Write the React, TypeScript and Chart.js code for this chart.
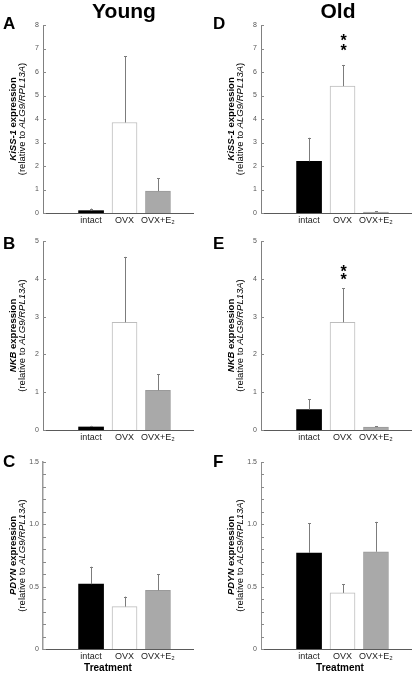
import React, { useEffect, useRef } from "react";
import { Chart, registerables } from "chart.js";

Chart.register(...registerables);

const FONT = '"Liberation Sans", Arial, Helvetica, sans-serif';

// ---- data ----
const categories = ["intact", "OVX", "OVX+E\u2082"];

// Young
const youngKissMean = [0.1, 3.85, 0.93];
const youngKissSem = [0.09, 2.82, 0.55];
const youngNkbMean = [0.08, 2.85, 1.05];
const youngNkbSem = [0.03, 1.73, 0.42];
const youngPdynMean = [0.52, 0.34, 0.47];
const youngPdynSem = [0.14, 0.08, 0.13];

// Old
const oldKissMean = [2.2, 5.4, 0.04];
const oldKissSem = [1.0, 0.9, 0.03];
const oldNkbMean = [0.54, 2.85, 0.08];
const oldNkbSem = [0.27, 0.9, 0.02];
const oldPdynMean = [0.77, 0.45, 0.78];
const oldPdynSem = [0.24, 0.07, 0.24];

// significance marks
const noStars = ["", "", ""];
const oldKissStars = ["", "**", ""];
const oldNkbStars = ["", "**", ""];

// tick values
const kissTicks = [0, 1, 2, 3, 4, 5, 6, 7, 8];
const nkbTicks = [0, 1, 2, 3, 4, 5];
const pdynTicks = [0, 0.1, 0.2, 0.3, 0.4, 0.5, 0.6, 0.7, 0.8, 0.9, 1.0, 1.1, 1.2, 1.3, 1.4, 1.5];
const pdynLabelTicks = [0, 0.5, 1.0, 1.5];

const columnTitles = ["Young", "Old"];
const xAxisTitle = "Treatment";

// ---- layout / style ----
const COLS = [
  { left: 0, width: 208, padRight: 15, titleX: 124, letterX: 3, treatX: 108 },
  { left: 218, width: 198, padRight: 5, titleX: 338, letterX: 213, treatX: 340 },
];
const ROWS = [
  { top: 0, padBottom: 3, letterTop: 14.5 },
  { top: 216, padBottom: 2, letterTop: 235 },
  { top: 437, padBottom: 4, letterTop: 453 },
];
const CANVAS_H = 236;

const barFill = ["#000000", "#ffffff", "#a9a9a9"];
const barBorder = ["#000000", "#bdbdbd", "#9a9a9a"];
const barBorderW = [0, 1, 1];

type Seg = { text: string; bold?: boolean; italic?: boolean };

type PanelDef = {
  letter: string;
  gene: string;
  mean: number[];
  sem: number[];
  stars: string[];
  ticks: number[];
  labelTicks: number[];
  yMax: number;
  col: number;
  row: number;
  starOffsets: number[];
  decimals: number;
  axisColor: string;
  axisWidth: number;
};

const panels: PanelDef[] = [
  { letter: "A", gene: "KiSS-1", mean: youngKissMean, sem: youngKissSem, stars: noStars, ticks: kissTicks, labelTicks: kissTicks, yMax: 8, col: 0, row: 0, starOffsets: [], decimals: 0, axisColor: "#808080", axisWidth: 1 },
  { letter: "B", gene: "NKB", mean: youngNkbMean, sem: youngNkbSem, stars: noStars, ticks: nkbTicks, labelTicks: nkbTicks, yMax: 5, col: 0, row: 1, starOffsets: [], decimals: 0, axisColor: "#808080", axisWidth: 1 },
  { letter: "C", gene: "PDYN", mean: youngPdynMean, sem: youngPdynSem, stars: noStars, ticks: pdynTicks, labelTicks: pdynLabelTicks, yMax: 1.5, col: 0, row: 2, starOffsets: [], decimals: 1, axisColor: "#9a9a9a", axisWidth: 1.5 },
  { letter: "D", gene: "KiSS-1", mean: oldKissMean, sem: oldKissSem, stars: oldKissStars, ticks: kissTicks, labelTicks: kissTicks, yMax: 8, col: 1, row: 0, starOffsets: [17, 27], decimals: 0, axisColor: "#808080", axisWidth: 1 },
  { letter: "E", gene: "NKB", mean: oldNkbMean, sem: oldNkbSem, stars: oldNkbStars, ticks: nkbTicks, labelTicks: nkbTicks, yMax: 5, col: 1, row: 1, starOffsets: [11, 19], decimals: 0, axisColor: "#808080", axisWidth: 1 },
  { letter: "F", gene: "PDYN", mean: oldPdynMean, sem: oldPdynSem, stars: noStars, ticks: pdynTicks, labelTicks: pdynLabelTicks, yMax: 1.5, col: 1, row: 2, starOffsets: [], decimals: 1, axisColor: "#909090", axisWidth: 1 },
];

function drawRich(ctx: CanvasRenderingContext2D, segs: Seg[], cx: number, cy: number, size: number) {
  ctx.save();
  ctx.translate(cx, cy);
  ctx.rotate(-Math.PI / 2);
  ctx.textBaseline = "middle";
  ctx.textAlign = "left";
  ctx.fillStyle = "#000";
  const fonts = segs.map((s) => `${s.italic ? "italic " : ""}${s.bold ? "bold " : ""}${size}px ${FONT}`);
  let total = 0;
  const widths = segs.map((s, i) => {
    ctx.font = fonts[i];
    const w = ctx.measureText(s.text).width;
    total += w;
    return w;
  });
  let xx = -total / 2;
  segs.forEach((s, i) => {
    ctx.font = fonts[i];
    ctx.fillText(s.text, xx, 0);
    xx += widths[i];
  });
  ctx.restore();
}

function Panel({ def }: { def: PanelDef }) {
  const ref = useRef<HTMLCanvasElement | null>(null);
  const col = COLS[def.col];
  const row = ROWS[def.row];

  useEffect(() => {
    if (!ref.current) return;
    const labelSet = def.labelTicks;
    const decor = {
      id: "decor" + def.letter,
      afterDatasetsDraw(chart: any) {
        const { ctx, chartArea } = chart;
        const x = chart.scales.x;
        const y = chart.scales.y;
        ctx.save();
        // error bars (upper only)
        ctx.strokeStyle = "#7c7c7c";
        ctx.lineWidth = 1;
        def.mean.forEach((m, i) => {
          const px = Math.round(x.getPixelForValue(i)) + 0.5;
          const y0 = y.getPixelForValue(m);
          const y1 = y.getPixelForValue(m + def.sem[i]);
          ctx.beginPath();
          ctx.moveTo(px, y0);
          ctx.lineTo(px, y1);
          ctx.moveTo(px - 1.5, Math.round(y1) + 0.5);
          ctx.lineTo(px + 1.5, Math.round(y1) + 0.5);
          ctx.stroke();
          // stars
          const st = def.stars[i];
          if (st) {
            ctx.fillStyle = "#000";
            ctx.font = `bold 16px ${FONT}`;
            ctx.textAlign = "center";
            ctx.textBaseline = "middle";
            st.split("").forEach((c, k) => {
              ctx.fillText(c, px, y1 - def.starOffsets[k] + 3.5);
            });
          }
        });
        // inward tick marks on y axis
        ctx.strokeStyle = "#8a8a8a";
        ctx.lineWidth = 1;
        def.ticks.forEach((v) => {
          const py = Math.round(y.getPixelForValue(v)) + 0.5;
          ctx.beginPath();
          ctx.moveTo(chartArea.left, py);
          ctx.lineTo(chartArea.left + 3, py);
          ctx.stroke();
        });
        ctx.restore();
        // y-axis title
        const midY = (chartArea.top + chartArea.bottom) / 2;
        drawRich(ctx, [
          { text: def.gene, bold: true, italic: true },
          { text: " expression", bold: true },
        ], chartArea.left - 30, midY, 9.5);
        drawRich(ctx, [
          { text: "(relative to " },
          { text: "ALG9/RPL13A", italic: true },
          { text: ")" },
        ], chartArea.left - 20.5, midY, 9.5);
      },
    };

    const chart = new Chart(ref.current, {
      type: "bar",
      data: {
        datasets: [
          {
            data: def.mean.map((m, i) => ({ x: i, y: m })),
            backgroundColor: barFill,
            borderColor: barBorder,
            borderWidth: barBorderW,
            barThickness: 25,
          } as any,
        ],
      },
      options: {
        responsive: false,
        animation: false,
        events: [],
        layout: { padding: { top: 25, bottom: row.padBottom, left: 0, right: col.padRight } },
        plugins: { legend: { display: false }, tooltip: { enabled: false }, title: { display: false } },
        scales: {
          x: {
            type: "linear",
            min: -0.69,
            max: 2.3,
            bounds: "data",
            grid: { display: false, drawTicks: false },
            border: { display: true, color: "#5a5a5a", width: 1 },
            afterBuildTicks: (scale: any) => {
              scale.ticks = categories.map((_, i) => ({ value: i }));
            },
            afterFit: (scale: any) => {
              scale.height = 20;
            },
            ticks: {
              autoSkip: false,
              maxRotation: 0,
              minRotation: 0,
              padding: 2,
              color: "#222",
              font: { family: FONT, size: 9 },
              callback: (_v: any, i: number) => categories[i],
            },
          },
          y: {
            type: "linear",
            min: 0,
            max: def.yMax,
            bounds: "data",
            grid: { display: false, drawTicks: false },
            border: { display: true, color: def.axisColor, width: def.axisWidth },
            afterBuildTicks: (scale: any) => {
              scale.ticks = def.ticks.map((v) => ({ value: v }));
            },
            afterFit: (scale: any) => {
              scale.width = 43;
            },
            ticks: {
              autoSkip: false,
              padding: 4,
              color: "#555",
              font: { family: FONT, size: 7 },
              callback: (v: any) => {
                const n = Number(v);
                const isLabel = labelSet.some((t) => Math.abs(t - n) < 1e-6);
                if (!isLabel) return "";
                return n === 0 ? "0" : n.toFixed(def.decimals);
              },
            },
          },
        },
      },
      plugins: [decor],
    } as any);
    return () => chart.destroy();
  }, [def]);

  return (
    <canvas
      ref={ref}
      width={col.width}
      height={CANVAS_H}
      style={{ position: "absolute", left: col.left, top: row.top, width: col.width, height: CANVAS_H }}
    />
  );
}

export default function App() {
  return (
    <div style={{ position: "absolute", left: 0, top: 0, width: 416, height: 681, background: "#fff", fontFamily: FONT, overflow: "hidden" }}>
      {panels.map((p) => (
        <Panel key={p.letter} def={p} />
      ))}
      {columnTitles.map((t, i) => (
        <div
          key={t}
          style={{ position: "absolute", left: COLS[i].titleX, top: 0, transform: "translateX(-50%)", font: `bold 21px ${FONT}`, lineHeight: "21px", whiteSpace: "nowrap", color: "#000" }}
        >
          {t}
        </div>
      ))}
      {panels.map((p) => (
        <div
          key={"l" + p.letter}
          style={{ position: "absolute", left: COLS[p.col].letterX, top: ROWS[p.row].letterTop, font: `bold 17px ${FONT}`, lineHeight: "17px", color: "#000" }}
        >
          {p.letter}
        </div>
      ))}
      {COLS.map((c, i) => (
        <div
          key={"t" + i}
          style={{ position: "absolute", left: c.treatX, top: 662, transform: "translateX(-50%)", font: `bold 10px ${FONT}`, lineHeight: "12px", whiteSpace: "nowrap", color: "#000" }}
        >
          {xAxisTitle}
        </div>
      ))}
    </div>
  );
}
